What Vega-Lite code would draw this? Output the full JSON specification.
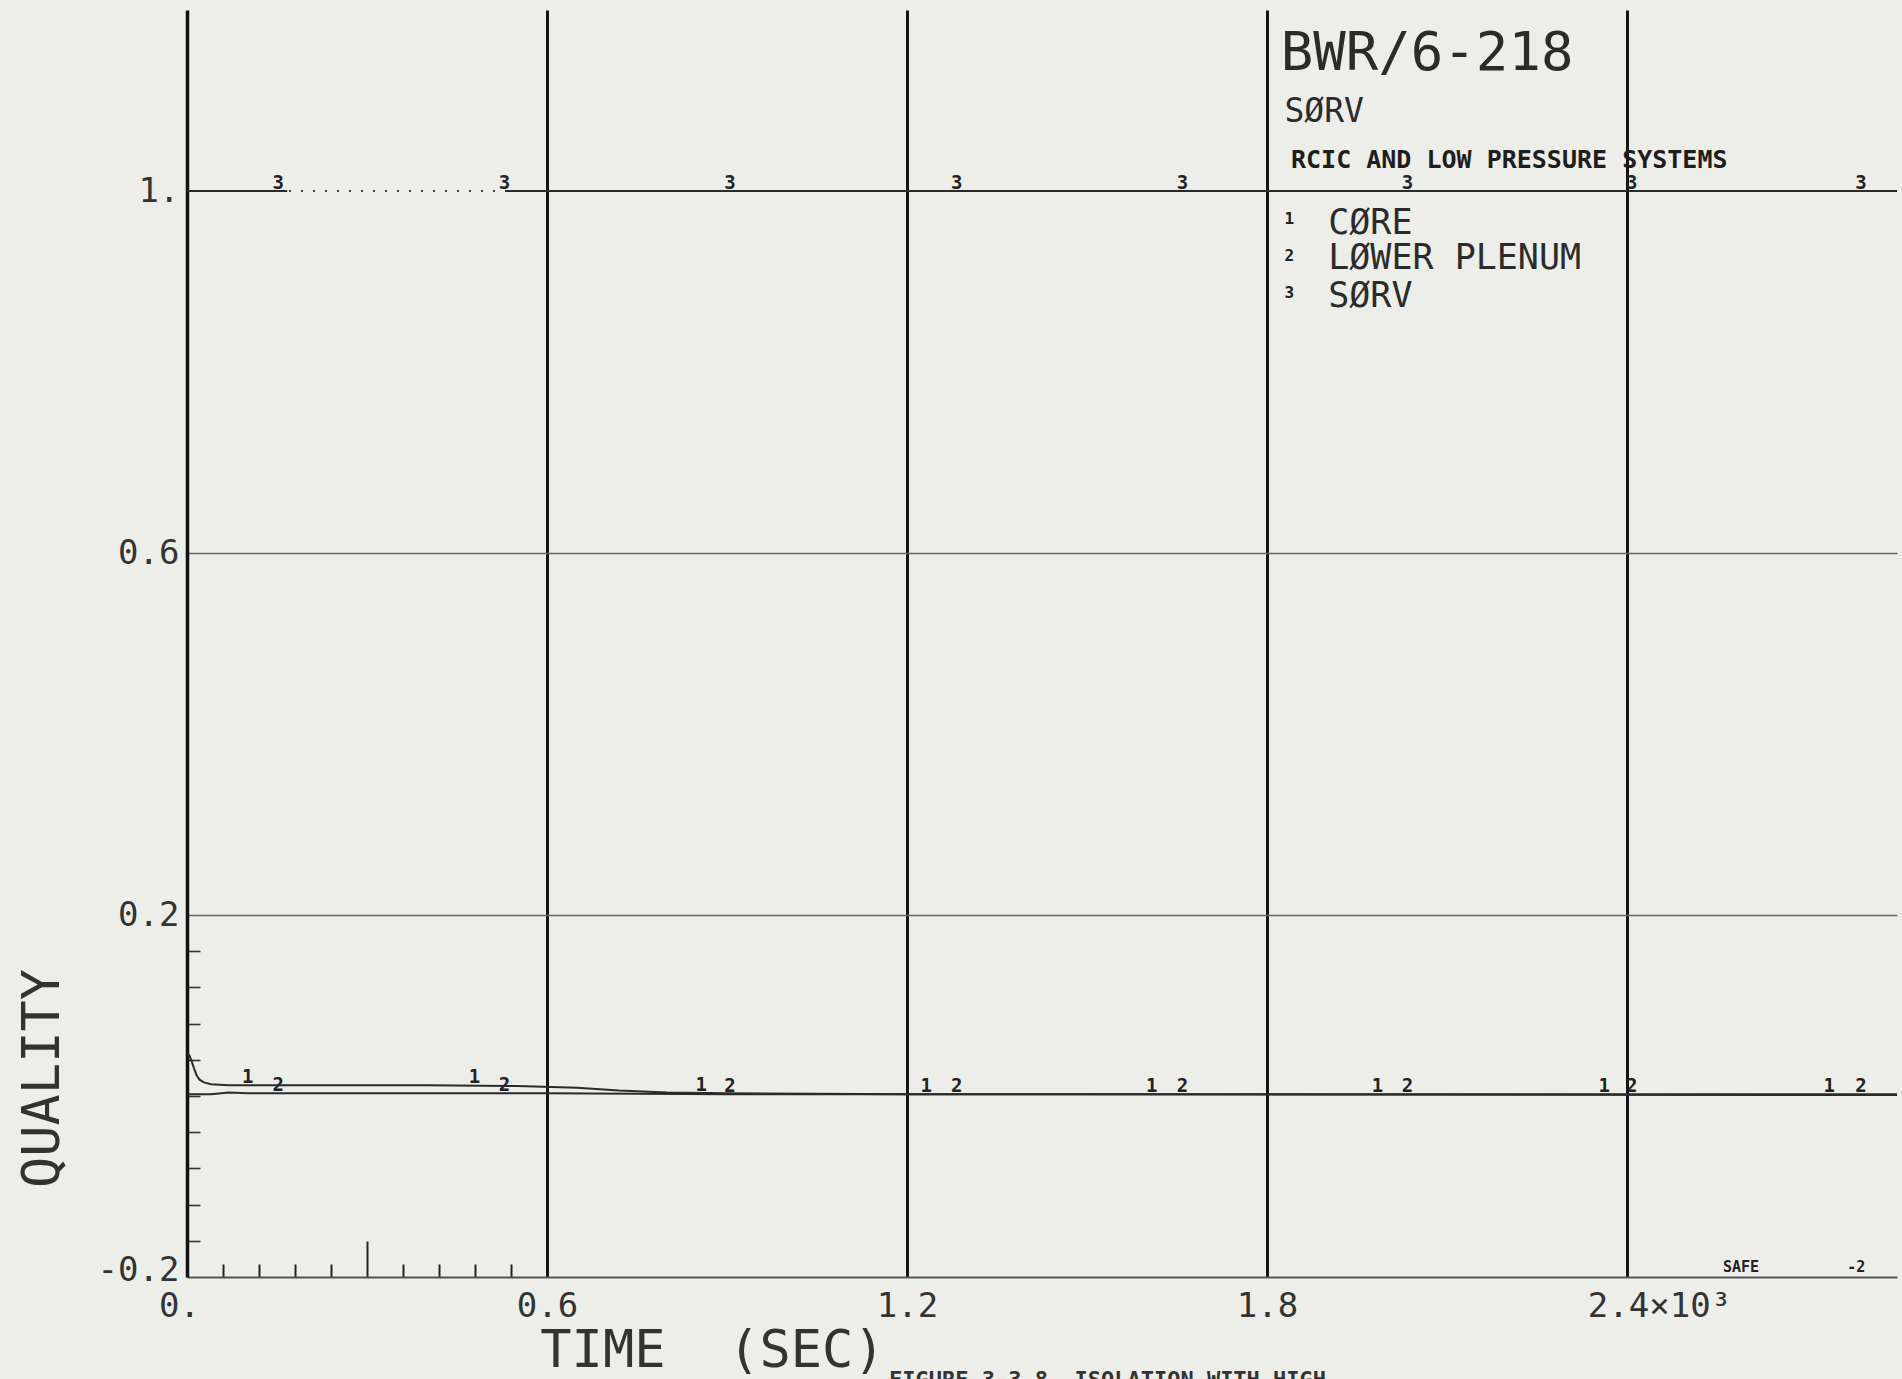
{
  "$schema": "https://vega.github.io/schema/vega-lite/v6.json",
  "width": 1710,
  "height": 1267,
  "autosize": {"type": "none"},
  "padding": {"left": 187, "top": 10, "right": 5, "bottom": 102},
  "background": "#edede9",
  "config": {"view": {"stroke": null}, "font": "DejaVu Sans Mono"},
  "encoding": {
    "x": {
      "field": "x",
      "type": "quantitative",
      "scale": {"domain": [0, 2.85], "nice": false, "zero": false},
      "axis": {
        "values": [0, 0.06, 0.12, 0.18, 0.24, 0.3, 0.36, 0.42, 0.48, 0.54, 0.6, 1.2, 1.8, 2.4],
        "labelExpr": "datum.value == 0 ? '0.' : datum.value == 0.6 ? '0.6' : datum.value == 1.2 ? '1.2' : datum.value == 1.8 ? '1.8' : datum.value == 2.4 ? '2.4×10³' : ''",
        "labelFont": "DejaVu Sans Mono",
        "labelFontSize": 34,
        "labelColor": "#333333",
        "labelPadding": 12,
        "labelOverlap": false,
        "labelFlush": false,
        "labelBound": false,
        "labelOffset": {"condition": [{"test": "datum.value == 2.4", "value": 32}, {"test": "datum.value == 0", "value": -8}], "value": 0},
        "grid": true,
        "gridColor": "#151515",
        "gridWidth": 3,
        "gridOpacity": {"condition": {"test": "datum.value == 0.6 || datum.value == 1.2 || datum.value == 1.8 || datum.value == 2.4", "value": 1}, "value": 0},
        "ticks": true,
        "tickColor": "#222222",
        "tickWidth": 2,
        "tickSize": {"condition": [{"test": "datum.value == 0 || datum.value == 0.6 || datum.value == 1.2 || datum.value == 1.8 || datum.value == 2.4", "value": 0}, {"test": "datum.value == 0.3", "value": -36}], "value": -13},
        "domainColor": "#555555",
        "domainWidth": 2,
        "title": "TIME\u00a0\u00a0(SEC)",
        "titleFont": "DejaVu Sans Mono",
        "titleFontSize": 52,
        "titleFontWeight": "normal",
        "titleColor": "#333333",
        "titleX": 525,
        "titleY": 89,
        "titleAlign": "center",
        "titleBaseline": "alphabetic"
      }
    },
    "y": {
      "field": "y",
      "type": "quantitative",
      "scale": {"domain": [-0.2, 1.2], "nice": false, "zero": false},
      "axis": {
        "values": [-0.2, -0.16, -0.12, -0.08, -0.04, 0, 0.04, 0.08, 0.12, 0.16, 0.2, 0.6, 1],
        "labelExpr": "datum.value == 1 ? '1.' : datum.value == 0.6 ? '0.6' : datum.value == 0.2 ? '0.2' : datum.value == -0.2 ? '-0.2' : ''",
        "labelFont": "DejaVu Sans Mono",
        "labelFontSize": 34,
        "labelColor": "#333333",
        "labelPadding": 8,
        "labelBaseline": "middle",
        "labelOffset": {"condition": {"test": "datum.value == -0.2", "value": -7}, "value": 0},
        "labelOverlap": false,
        "labelFlush": false,
        "labelBound": false,
        "grid": true,
        "gridColor": "#666666",
        "gridWidth": 1.6,
        "gridOpacity": {"condition": {"test": "datum.value == 0.2 || datum.value == 0.6", "value": 1}, "value": 0},
        "ticks": true,
        "tickColor": "#333333",
        "tickWidth": 1.6,
        "tickSize": {"condition": {"test": "datum.value > -0.19 && datum.value < 0.19", "value": -13}, "value": 0},
        "domainColor": "#111111",
        "domainWidth": 3.5,
        "title": "QUALITY",
        "titleFont": "DejaVu Sans Mono",
        "titleFontSize": 52,
        "titleFontWeight": "normal",
        "titleColor": "#333333",
        "titleAngle": 270,
        "titleX": -145,
        "titleY": 1068,
        "titleAlign": "center",
        "titleBaseline": "middle"
      }
    }
  },
  "layer": [
    {
      "data": {"name": "curves", "values": [
        {"part": "1", "x": 0, "y": 0.047},
        {"part": "1", "x": 0.004, "y": 0.045},
        {"part": "1", "x": 0.008, "y": 0.038},
        {"part": "1", "x": 0.012, "y": 0.03},
        {"part": "1", "x": 0.016, "y": 0.023},
        {"part": "1", "x": 0.021, "y": 0.018},
        {"part": "1", "x": 0.028, "y": 0.015},
        {"part": "1", "x": 0.04, "y": 0.013},
        {"part": "1", "x": 0.07, "y": 0.012},
        {"part": "1", "x": 0.2, "y": 0.012},
        {"part": "1", "x": 0.4, "y": 0.012},
        {"part": "1", "x": 0.55, "y": 0.011},
        {"part": "1", "x": 0.65, "y": 0.009},
        {"part": "1", "x": 0.72, "y": 0.006},
        {"part": "1", "x": 0.8, "y": 0.004},
        {"part": "1", "x": 0.9, "y": 0.003},
        {"part": "1", "x": 1.2, "y": 0.002},
        {"part": "1", "x": 1.8, "y": 0.002},
        {"part": "1", "x": 2.4, "y": 0.002},
        {"part": "1", "x": 2.85, "y": 0.002},
        {"part": "2", "x": 0, "y": 0.002},
        {"part": "2", "x": 0.04, "y": 0.002},
        {"part": "2", "x": 0.07, "y": 0.004},
        {"part": "2", "x": 0.1, "y": 0.003},
        {"part": "2", "x": 0.3, "y": 0.003},
        {"part": "2", "x": 0.6, "y": 0.003},
        {"part": "2", "x": 0.9, "y": 0.002},
        {"part": "2", "x": 1.5, "y": 0.002},
        {"part": "2", "x": 2.85, "y": 0.001},
        {"part": "3a", "x": 0, "y": 1},
        {"part": "3a", "x": 0.167, "y": 1},
        {"part": "3b", "x": 0.17, "y": 1},
        {"part": "3b", "x": 0.53, "y": 1},
        {"part": "3c", "x": 0.53, "y": 1},
        {"part": "3c", "x": 2.85, "y": 1}
      ]},
      "transform": [{"filter": "datum.part != '3b'"}],
      "mark": {"type": "line", "stroke": "#2a2a2a", "strokeWidth": 2},
      "encoding": {"detail": {"field": "part", "type": "nominal"}}
    },
    {
      "data": {"name": "curves"},
      "transform": [{"filter": "datum.part == '3b'"}],
      "mark": {"type": "line", "stroke": "#444444", "strokeWidth": 2, "strokeDash": [2, 10]},
      "encoding": {"detail": {"field": "part", "type": "nominal"}}
    },
    {
      "data": {"values": [
        {"x": 0.101, "y": 0.012, "label": "1"},
        {"x": 0.479, "y": 0.012, "label": "1"},
        {"x": 0.857, "y": 0.003, "label": "1"},
        {"x": 1.232, "y": 0.002, "label": "1"},
        {"x": 1.608, "y": 0.002, "label": "1"},
        {"x": 1.984, "y": 0.002, "label": "1"},
        {"x": 2.362, "y": 0.002, "label": "1"},
        {"x": 2.737, "y": 0.002, "label": "1"},
        {"x": 0.152, "y": 0.003, "label": "2"},
        {"x": 0.529, "y": 0.003, "label": "2"},
        {"x": 0.905, "y": 0.002, "label": "2"},
        {"x": 1.283, "y": 0.002, "label": "2"},
        {"x": 1.659, "y": 0.002, "label": "2"},
        {"x": 2.034, "y": 0.002, "label": "2"},
        {"x": 2.408, "y": 0.002, "label": "2"},
        {"x": 2.79, "y": 0.002, "label": "2"},
        {"x": 0.152, "y": 1, "label": "3"},
        {"x": 0.529, "y": 1, "label": "3"},
        {"x": 0.905, "y": 1, "label": "3"},
        {"x": 1.283, "y": 1, "label": "3"},
        {"x": 1.659, "y": 1, "label": "3"},
        {"x": 2.034, "y": 1, "label": "3"},
        {"x": 2.408, "y": 1, "label": "3"},
        {"x": 2.79, "y": 1, "label": "3"}
      ]},
      "mark": {"type": "text", "font": "DejaVu Sans Mono", "fontWeight": "bold", "fontSize": 19, "align": "center", "baseline": "alphabetic", "dy": -2, "color": "#222222"},
      "encoding": {"text": {"field": "label"}}
    },
    {
      "data": {"values": [{"x": 1.823, "y": 1.134, "label": "BWR/6-218"}]},
      "mark": {"type": "text", "font": "DejaVu Sans Mono", "fontSize": 54, "align": "left", "baseline": "alphabetic", "color": "#2b2b2b"},
      "encoding": {"text": {"field": "label"}}
    },
    {
      "data": {"values": [{"x": 1.829, "y": 1.076, "label": "SØRV"}]},
      "mark": {"type": "text", "font": "DejaVu Sans Mono", "fontSize": 33, "align": "left", "baseline": "alphabetic", "color": "#2b2b2b"},
      "encoding": {"text": {"field": "label"}}
    },
    {
      "data": {"values": [{"x": 1.84, "y": 1.025, "label": "RCIC AND LOW PRESSURE SYSTEMS"}]},
      "mark": {"type": "text", "font": "DejaVu Sans Mono", "fontSize": 25, "fontWeight": "bold", "align": "left", "baseline": "alphabetic", "color": "#1e1e1e"},
      "encoding": {"text": {"field": "label"}}
    },
    {
      "data": {"values": [
        {"x": 1.837, "y": 0.9635, "label": "1"},
        {"x": 1.837, "y": 0.9227, "label": "2"},
        {"x": 1.837, "y": 0.8818, "label": "3"}
      ]},
      "mark": {"type": "text", "font": "DejaVu Sans Mono", "fontSize": 16, "fontWeight": "bold", "align": "center", "baseline": "alphabetic", "color": "#222222"},
      "encoding": {"text": {"field": "label"}}
    },
    {
      "data": {"values": [
        {"x": 1.902, "y": 0.9525, "label": "CØRE"},
        {"x": 1.902, "y": 0.9135, "label": "LØWER PLENUM"},
        {"x": 1.902, "y": 0.872, "label": "SØRV"}
      ]},
      "mark": {"type": "text", "font": "DejaVu Sans Mono", "fontSize": 35, "align": "left", "baseline": "alphabetic", "color": "#2b2b2b"},
      "encoding": {"text": {"field": "label"}}
    },
    {
      "data": {"values": [
        {"x": 2.56, "y": -0.1945, "label": "SAFE"},
        {"x": 2.767, "y": -0.1945, "label": "-2"}
      ]},
      "mark": {"type": "text", "font": "DejaVu Sans Mono", "fontSize": 15, "fontWeight": "bold", "align": "left", "baseline": "alphabetic", "color": "#222222"},
      "encoding": {"text": {"field": "label"}}
    },
    {
      "data": {"values": [{"x": 1.17, "y": -0.3215, "label": "FIGURE 3-3.8\u00a0\u00a0ISOLATION WITH HIGH"}]},
      "mark": {"type": "text", "font": "DejaVu Sans Mono", "fontSize": 22, "fontWeight": "bold", "align": "left", "baseline": "alphabetic", "color": "#333333"},
      "encoding": {"text": {"field": "label"}}
    }
  ]
}
